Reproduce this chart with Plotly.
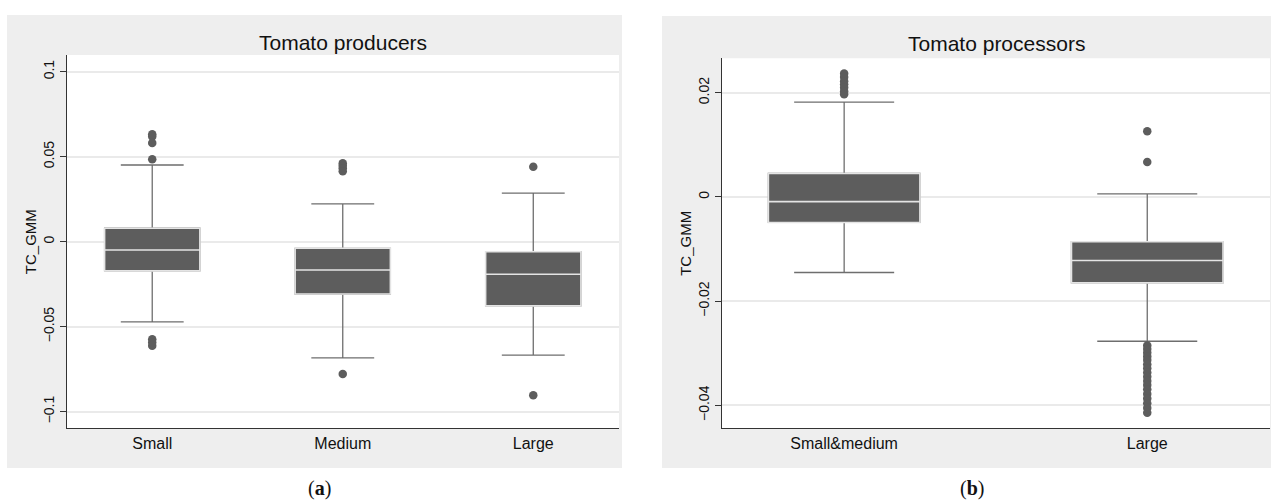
import plotly.graph_objects as go

# ---------------- data ----------------
prod_cats = ["Small", "Medium", "Large"]
prod_q1 = [-0.0172, -0.0308, -0.0378]
prod_median = [-0.0049, -0.0167, -0.0192]
prod_q3 = [0.0079, -0.0039, -0.0059]
prod_lower = [-0.0472, -0.0684, -0.0667]
prod_upper = [0.0451, 0.0222, 0.0285]
prod_out_small = [0.0632, 0.0618, 0.0580, 0.0485, -0.0574, -0.0594, -0.0612]
prod_out_medium = [0.0461, 0.0447, 0.0432, 0.0414, -0.0778]
prod_out_large = [0.0441, -0.0904]

proc_cats = ["Small&medium", "Large"]
proc_q1 = [-0.0049, -0.0165]
proc_median = [-0.0009, -0.0122]
proc_q3 = [0.0045, -0.0086]
proc_lower = [-0.0145, -0.0277]
proc_upper = [0.0182, 0.0006]
proc_out_smallmedium = [0.0237, 0.0230, 0.0222, 0.0216, 0.0210, 0.0203, 0.0197]
proc_out_large = [0.0126, 0.0067,
                  -0.0285, -0.0292, -0.0299, -0.0306, -0.0313, -0.0321,
                  -0.0329, -0.0337, -0.0345, -0.0353, -0.0361, -0.0369,
                  -0.0378, -0.0387, -0.0396, -0.0405, -0.0414]

prod_ticks = [-0.1, -0.05, 0, 0.05, 0.1]
prod_ticktext = ["\u22120.1", "\u22120.05", "0", "0.05", "0.1"]
proc_ticks = [-0.04, -0.02, 0, 0.02]
proc_ticktext = ["\u22120.04", "\u22120.02", "0", "0.02"]

# ---------------- styling ----------------
W, H = 1271, 502
BOX_FILL = "#5d5d5d"
WHISK = "#6e6e6e"
EDGE = "#e4e4e4"
PANEL = "#eeeeee"
FONT = "Liberation Sans, Arial, sans-serif"
TXT = "#111111"

fig = go.Figure()


def add_panel(cats, q1, med, q3, lo, hi, outs, xa, ya):
    # full box with whiskers (grey lines)
    fig.add_trace(go.Box(
        x=cats, q1=q1, median=med, q3=q3, lowerfence=lo, upperfence=hi,
        fillcolor=BOX_FILL, line=dict(color=WHISK, width=1.3),
        whiskerwidth=0.66, width=0.5, boxpoints=False,
        xaxis=xa, yaxis=ya, showlegend=False, hoverinfo="skip"))
    # overlay box: light outline + white median, whiskers collapsed
    fig.add_trace(go.Box(
        x=cats, q1=q1, median=med, q3=q3, lowerfence=q1, upperfence=q3,
        fillcolor=BOX_FILL, line=dict(color=EDGE, width=1.6),
        whiskerwidth=0, width=0.5, boxpoints=False,
        xaxis=xa, yaxis=ya, showlegend=False, hoverinfo="skip"))
    for c, vals in zip(cats, outs):
        fig.add_trace(go.Scatter(
            x=[c] * len(vals), y=vals, mode="markers",
            marker=dict(color=BOX_FILL, size=8.5, line=dict(width=0)),
            xaxis=xa, yaxis=ya, showlegend=False, hoverinfo="skip"))


add_panel(prod_cats, prod_q1, prod_median, prod_q3, prod_lower, prod_upper,
          [prod_out_small, prod_out_medium, prod_out_large], "x", "y")
add_panel(proc_cats, proc_q1, proc_median, proc_q3, proc_lower, proc_upper,
          [proc_out_smallmedium, proc_out_large], "x2", "y2")


def px(x):
    return x / W


def py(y):
    return 1 - y / H


yax_common = dict(
    showgrid=True, gridcolor="#eaeaea", gridwidth=1.5, zeroline=False,
    showline=True, linecolor="#333333", linewidth=1,
    ticks="outside", ticklen=6, tickcolor="#333333", tickangle=-90,
    ticklabelstandoff=0,
    tickfont=dict(family=FONT, size=14, color=TXT),
    title=dict(text="TC_GMM", font=dict(family=FONT, size=15, color=TXT), standoff=0),
)
xax_common = dict(
    showgrid=False, zeroline=False, showline=True, linecolor="#333333", linewidth=1,
    ticks="", tickfont=dict(family=FONT, size=16, color=TXT),
    type="category",
)

# plot-area pixel boxes
A = dict(l=66.5, r=619, t=55, b=428.3)
B = dict(l=721.7, r=1270, t=58.3, b=428.3)

fig.update_layout(
    width=W, height=H,
    margin=dict(l=0, r=0, t=0, b=0),
    paper_bgcolor="white", plot_bgcolor="white",
    boxmode="overlay",
    xaxis=dict(domain=[px(A["l"]), px(A["r"])], range=[-0.45, 2.45], anchor="y", **xax_common),
    yaxis=dict(domain=[py(A["b"]), py(A["t"])], range=[-0.1098, 0.1098], anchor="x",
               tickvals=prod_ticks, ticktext=prod_ticktext, **yax_common),
    xaxis2=dict(domain=[px(B["l"]), px(B["r"])], range=[-0.404, 1.405], anchor="y2", **xax_common),
    yaxis2=dict(domain=[py(B["b"]), py(B["t"])], range=[-0.0444, 0.0266], anchor="x2",
                tickvals=proc_ticks, ticktext=proc_ticktext, **yax_common),
    shapes=[
        dict(type="rect", xref="paper", yref="paper", x0=px(7), x1=px(622), y0=py(468), y1=py(15),
             fillcolor=PANEL, line=dict(width=0), layer="below"),
        dict(type="rect", xref="paper", yref="paper", x0=px(662), x1=px(1271), y0=py(468), y1=py(16),
             fillcolor=PANEL, line=dict(width=0), layer="below"),
        dict(type="rect", xref="paper", yref="paper", x0=px(A["l"]), x1=px(A["r"]),
             y0=py(A["b"]), y1=py(A["t"]), fillcolor="white", line=dict(width=0), layer="below"),
        dict(type="rect", xref="paper", yref="paper", x0=px(B["l"]), x1=px(B["r"]),
             y0=py(B["b"]), y1=py(B["t"]), fillcolor="white", line=dict(width=0), layer="below"),
    ],
    annotations=[
        dict(text="Tomato producers", xref="paper", yref="paper", x=px(343), y=py(42),
             showarrow=False, font=dict(family=FONT, size=21, color=TXT),
             xanchor="center", yanchor="middle"),
        dict(text="Tomato processors", xref="paper", yref="paper", x=px(996), y=py(43),
             showarrow=False, font=dict(family=FONT, size=21, color=TXT),
             xanchor="center", yanchor="middle"),
        dict(text="(<b>a</b>)", xref="paper", yref="paper", x=px(319), y=py(488),
             showarrow=False, font=dict(family="Liberation Serif, serif", size=20, color=TXT),
             xanchor="center", yanchor="middle", borderpad=0),
        dict(text="(<b>b</b>)", xref="paper", yref="paper", x=px(972), y=py(488),
             showarrow=False, font=dict(family="Liberation Serif, serif", size=20, color=TXT),
             xanchor="center", yanchor="middle", borderpad=0),
    ],
)

fig.write_html("out.html", post_script="document.body.style.margin='0';",
               config={"displayModeBar": False})
